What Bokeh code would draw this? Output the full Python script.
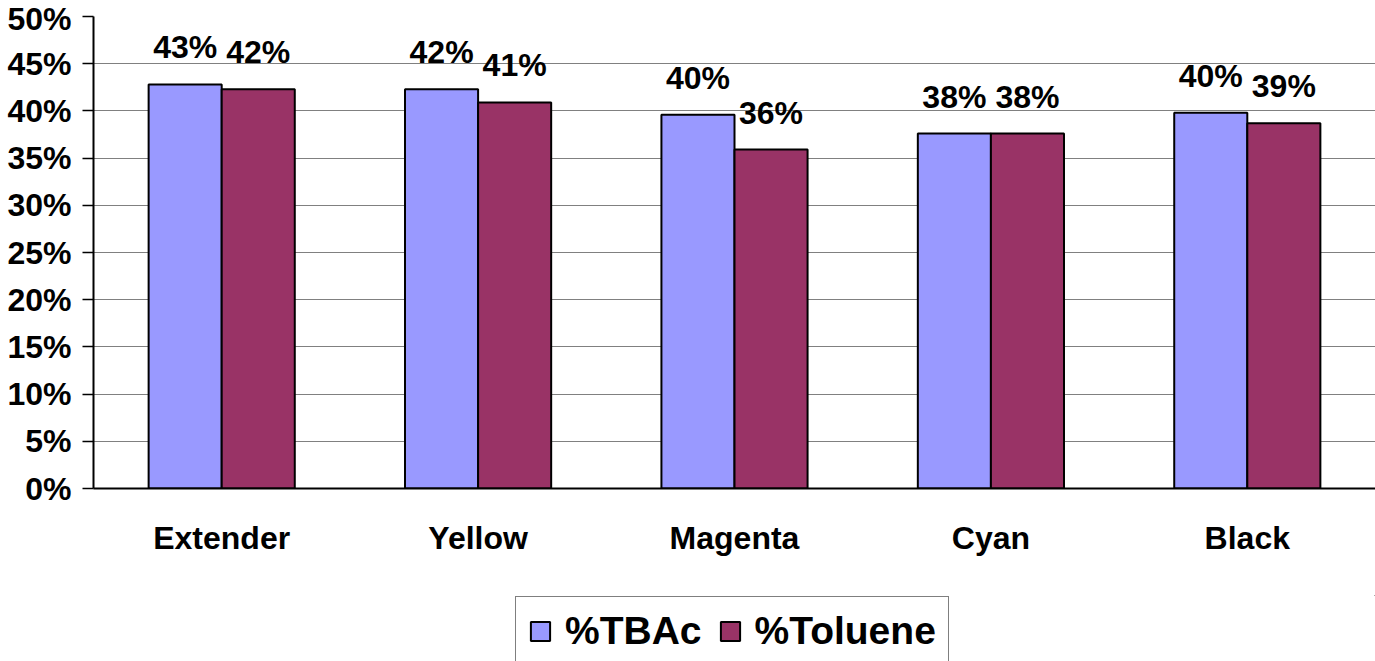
from bokeh.plotting import figure
from bokeh.layouts import column
from bokeh.models import ColumnDataSource, FactorRange, Range1d, FixedTicker, NumeralTickFormatter, Legend, LegendItem
from bokeh.transform import dodge
from bokeh.core.properties import value
from bokeh.embed import file_html
from bokeh.resources import INLINE

categories = ["Extender", "Yellow", "Magenta", "Cyan", "Black"]
tbac = [0.428, 0.423, 0.396, 0.376, 0.398]
toluene = [0.423, 0.409, 0.359, 0.376, 0.387]
y_ticks = [0.0, 0.05, 0.10, 0.15, 0.20, 0.25, 0.30, 0.35, 0.40, 0.45, 0.50]
series_names = ["%TBAc", "%Toluene"]
series_colors = ["#9999FF", "#993366"]

FONT = "Liberation Sans"

src = ColumnDataSource(dict(
    cat=categories,
    tbac=tbac,
    toluene=toluene,
    tbac_lbl=[f"{round(v * 100)}%" for v in tbac],
    tol_lbl=[f"{round(v * 100)}%" for v in toluene],
))

p = figure(width=1375, height=595, x_range=FactorRange(*categories), y_range=Range1d(0, 0.5),
           output_backend="svg", toolbar_location=None,
           min_border_left=93, min_border_right=0, min_border_top=16, min_border_bottom=107)

off = 0.1425
w = 0.285
p.vbar(x=dodge("cat", -off, range=p.x_range), top="tbac", width=w, source=src,
       fill_color=series_colors[0], line_color="black", line_width=2)
p.vbar(x=dodge("cat", off, range=p.x_range), top="toluene", width=w, source=src,
       fill_color=series_colors[1], line_color="black", line_width=2)

p.text(x=dodge("cat", -off, range=p.x_range), y="tbac", text="tbac_lbl", source=src,
       text_align="center", text_baseline="middle", y_offset=-37,
       text_font=value(FONT), text_font_style="bold", text_font_size="32px", text_color="black")
p.text(x=dodge("cat", off, range=p.x_range), y="toluene", text="tol_lbl", source=src,
       text_align="center", text_baseline="middle", y_offset=-37,
       text_font=value(FONT), text_font_style="bold", text_font_size="32px", text_color="black")

p.outline_line_color = None
p.xgrid.grid_line_color = None
p.ygrid.grid_line_color = "#808080"
p.ygrid.grid_line_width = 1.2
p.ygrid.ticker = FixedTicker(ticks=y_ticks)

p.yaxis.ticker = FixedTicker(ticks=y_ticks)
p.yaxis.formatter = NumeralTickFormatter(format="0%")
p.yaxis.major_label_text_font = FONT
p.yaxis.major_label_text_font_style = "bold"
p.yaxis.major_label_text_font_size = "32px"
p.yaxis.major_label_text_color = "black"
p.yaxis.axis_line_color = "black"
p.yaxis.axis_line_width = 2
p.yaxis.major_tick_out = 11
p.yaxis.major_tick_in = 0
p.yaxis.major_tick_line_color = "black"
p.yaxis.major_tick_line_width = 1.5
p.yaxis.minor_tick_line_color = None
p.yaxis.major_label_standoff = 11

p.xaxis.major_label_text_font = FONT
p.xaxis.major_label_text_font_style = "bold"
p.xaxis.major_label_text_font_size = "32px"
p.xaxis.major_label_text_color = "black"
p.xaxis.axis_line_color = "black"
p.xaxis.axis_line_width = 2
p.xaxis.major_tick_line_color = None
p.xaxis.minor_tick_line_color = None
p.xaxis.major_label_standoff = 25

# legend strip
lg = figure(width=1375, height=66, x_range=Range1d(0, 1), y_range=Range1d(0, 1),
            output_backend="svg", toolbar_location=None, x_axis_type=None, y_axis_type=None,
            min_border_left=0, min_border_right=0, min_border_top=0, min_border_bottom=0)
lg.outline_line_color = None
lg.grid.grid_line_color = None
items = []
for name, col in zip(series_names, series_colors):
    # placed outside the visible range: only the legend swatch is shown
    r = lg.vbar(x=[5], top=[5], bottom=[4], width=0.1, fill_color=col, line_color="black", line_width=2)
    items.append(LegendItem(label=name, renderers=[r]))
legend = Legend(items=items, orientation="horizontal", location=(422, -5),
                label_text_font=FONT, label_text_font_style="bold", label_text_font_size="39px",
                label_text_color="black", glyph_width=24, glyph_height=24, label_standoff=13,
                spacing=16, padding=12, margin=0,
                border_line_color="black", border_line_width=1.2, background_fill_alpha=1)
lg.add_layout(legend, "center")

layout = column(p, lg, spacing=0)
open("out.html", "w").write(file_html(layout, INLINE))
